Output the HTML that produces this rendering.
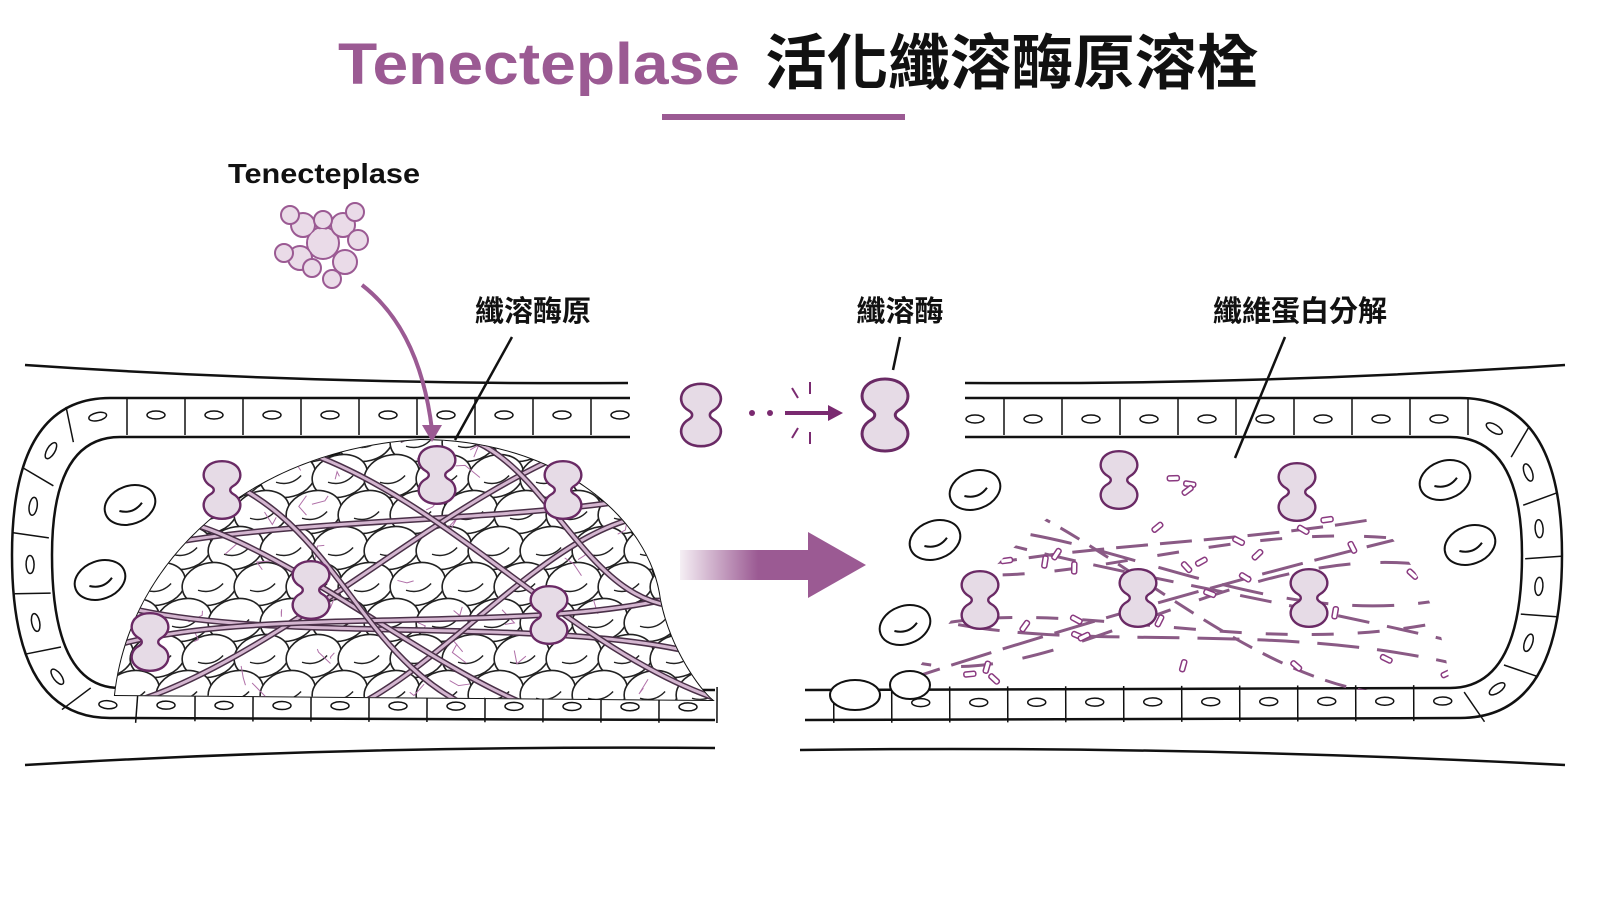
<!DOCTYPE html>
<html><head><meta charset="utf-8"><style>
html,body{margin:0;padding:0;background:#fff;width:1600px;height:900px;overflow:hidden}
svg{display:block}
text{font-family:"Liberation Sans","Noto Sans CJK TC",sans-serif;font-weight:bold}
</style></head><body>
<svg id="s" width="1600" height="900" viewBox="0 0 1600 900" xmlns="http://www.w3.org/2000/svg">
<defs>
<linearGradient id="ag" x1="0" x2="1"><stop offset="0" stop-color="#9b5a93" stop-opacity="0.1"/><stop offset="0.6" stop-color="#9b5a93"/></linearGradient>
<clipPath id="clot"><path d="M115,695 C130,560 250,450 420,440 C560,440 650,520 660,600 C670,650 700,690 712,700 Z"/></clipPath>
<clipPath id="rclip"><path d="M905,690 C960,600 1050,470 1200,455 C1350,450 1440,560 1450,690 Z"/></clipPath>
<symbol id="enz" viewBox="-30 -40 60 80" overflow="visible">
<path d="M0,-36 C24,-36 30,-14 14,-5 C9,-2 9,2 14,5 C30,14 24,36 0,36 C-24,36 -30,14 -14,5 C-9,2 -9,-2 -14,-5 C-30,-14 -24,-36 0,-36Z" fill="#e6dbe6" stroke="#6a2a65" stroke-width="3"/>
</symbol>
</defs>
<text x="338" y="84" font-size="58" fill="#9b5a93" textLength="402" lengthAdjust="spacingAndGlyphs">Tenecteplase</text>
<text x="765" y="84" font-size="60" fill="#111" textLength="493" lengthAdjust="spacingAndGlyphs">活化纖溶酶原溶栓</text>
<rect x="662" y="114" width="243" height="6" fill="#9b5a93"/>
<text x="228" y="183" font-size="28" fill="#111" textLength="192" lengthAdjust="spacingAndGlyphs">Tenecteplase</text>
<text x="533" y="321" font-size="29" fill="#111" text-anchor="middle">纖溶酶原</text>
<text x="900" y="321" font-size="29" fill="#111" text-anchor="middle">纖溶酶</text>
<text x="1300" y="321" font-size="29" fill="#111" text-anchor="middle">纖維蛋白分解</text>
<g id="vess" fill="none" stroke="#111" stroke-width="2.5">
<path d="M25,365 Q320,385 628,383"/>
<path d="M25,765 Q360,745 715,748"/>
<path d="M965,383 Q1260,385 1565,365"/>
<path d="M800,750 Q1180,745 1565,765"/>
<path d="M630,398 L110,398 Q12,398 12,555 Q12,718 110,718 L715,720"/>
<path d="M630,437 L120,437 Q52,437 52,555 Q52,688 120,688 L715,690"/>
<path d="M965,398 L1460,398 Q1562,398 1562,555 Q1562,718 1460,718 L805,720"/>
<path d="M965,437 L1450,437 Q1522,437 1522,555 Q1522,688 1450,688 L805,690"/>
</g>
<path id="c1" d="M630,417 L115,417 Q32,417 32,555 Q32,703 115,703 L715,705" fill="none" stroke="none"/>
<path id="c2" d="M965,417 L1455,417 Q1542,417 1542,555 Q1542,703 1455,703 L805,705" fill="none" stroke="none"/>
<g id="walls"></g>
<g id="rbc" fill="#fff" stroke="#111" stroke-width="2"></g>
<path d="M115,695 C130,560 250,450 420,440 C560,440 650,520 660,600 C670,650 700,690 712,700 Z" fill="#fff" stroke="#111" stroke-width="2"/>
<g clip-path="url(#clot)" id="clotg"></g>
<g clip-path="url(#rclip)" id="rg"></g>
<path d="M362,285 Q420,330 432,430" fill="none" stroke="#9b5a93" stroke-width="4"/>
<path d="M422,425 L432,442 L442,425Z" fill="#9b5a93"/>
<line x1="512" y1="337" x2="455" y2="440" stroke="#111" stroke-width="2.5"/>
<line x1="900" y1="337" x2="893" y2="370" stroke="#111" stroke-width="2.5"/>
<line x1="1285" y1="337" x2="1235" y2="458" stroke="#111" stroke-width="2.5"/>
<g id="tnk" fill="#eadbe8" stroke="#9b5a93" stroke-width="2"></g>
<use href="#enz" x="675" y="375" width="52" height="80"/>
<use href="#enz" x="855" y="373" width="60" height="84"/>
<circle cx="752" cy="413" r="3" fill="#7a2a70"/><circle cx="770" cy="413" r="3" fill="#7a2a70"/>
<line x1="785" y1="413" x2="830" y2="413" stroke="#7a2a70" stroke-width="4"/>
<path d="M828,405 L843,413 L828,421Z" fill="#7a2a70"/>
<g stroke="#7a2a70" stroke-width="2"><line x1="792" y1="388" x2="798" y2="398"/><line x1="810" y1="382" x2="810" y2="394"/><line x1="792" y1="438" x2="798" y2="428"/><line x1="810" y1="444" x2="810" y2="432"/></g>
<rect x="680" y="550" width="130" height="30" fill="url(#ag)"/>
<path d="M808,532 L866,565 L808,598Z" fill="#9b5a93"/>
<g id="enzs"></g>
</svg>
<script>
var NS="http://www.w3.org/2000/svg";
function el(p,t,a){var e=document.createElementNS(NS,t);for(var k in a)e.setAttribute(k,a[k]);p.appendChild(e);return e;}
var W=document.getElementById('walls');
['c1','c2'].forEach(function(id){var p=document.getElementById(id),L=p.getTotalLength();
for(var d=10;d<L-10;d+=58){var a=p.getPointAtLength(d),b=p.getPointAtLength(d+1),ang=Math.atan2(b.y-a.y,b.x-a.x)*180/Math.PI;
var g=el(W,'g',{transform:'translate('+a.x+','+a.y+') rotate('+ang+')'});
el(g,'ellipse',{cx:0,cy:2,rx:9,ry:4,fill:'none',stroke:'#111','stroke-width':1.5});
el(g,'line',{x1:29,y1:-18,x2:29,y2:18,stroke:'#111','stroke-width':1.5});}});
var T=document.getElementById('tnk');
[[323,243,16],[303,225,12],[343,225,12],[300,258,12],[345,262,12],[290,215,9],[355,212,9],[284,253,9],[358,240,10],[332,279,9],[312,268,9],[323,220,9]].forEach(function(c){el(T,'circle',{cx:c[0],cy:c[1],r:c[2]});});
el(T,'circle',{cx:322,cy:243,r:14,stroke:'none'});
var R=document.getElementById('rbc');
[[130,505],[100,580],[1445,480],[1470,545],[975,490],[935,540],[905,625]].forEach(function(c){
var g=el(R,'g',{transform:'translate('+c[0]+','+c[1]+') rotate(-20)'});el(g,'ellipse',{cx:0,cy:0,rx:26,ry:19});el(g,'path',{d:'M-12,2 Q0,10 12,2',fill:'none'});});
var C=document.getElementById('clotg');
for(var y=440;y<720;y+=36)for(var x=100;x<720;x+=52){var xx=x+((y/36)%2)*26;var g=el(C,'g',{transform:'translate('+xx+','+y+') rotate(-15)'});
el(g,'ellipse',{cx:0,cy:0,rx:28,ry:21,fill:'#fff',stroke:'#222','stroke-width':1.6});el(g,'path',{d:'M-13,3 Q0,11 13,3',fill:'none',stroke:'#222','stroke-width':1.4});}
var seed=3;function rnd(){seed=(seed*9301+49297)%233280;return seed/233280;}
for(var i=0;i<50;i++){var x=120+rnd()*580,y=450+rnd()*250;el(C,'path',{d:'M'+x+','+y+' l'+(rnd()*30-15)+','+(rnd()*30-15)+' l'+(rnd()*20-10)+','+(rnd()*20-10),fill:'none',stroke:'#b070a8','stroke-width':1});}
var F=[[100,560,720,480],[100,600,720,660],[140,700,600,440],[250,720,700,520],[100,520,650,720],[300,450,720,700],[100,650,700,590],[200,470,500,720],[400,440,720,600]];
F.forEach(function(f,i){var d='M'+f[0]+','+f[1]+' C'+(f[0]+150)+','+(f[1]+(i%2?50:-50))+' '+(f[2]-150)+','+(f[3]+(i%2?-50:50))+' '+f[2]+','+f[3];
el(C,'path',{d:d,fill:'none',stroke:'#4a3048','stroke-width':6});el(C,'path',{d:d,fill:'none',stroke:'#d4b6d0','stroke-width':3});});
var G=document.getElementById('rg');
for(var i=0;i<9;i++){var y0=490+i*24,y1=690-((i*47)%210);var d='M900,'+y0+' C1050,'+(y0+(i%2?50:-50))+' 1250,'+(y1+(i%2?-50:50))+' 1460,'+y1;
el(G,'path',{d:d,fill:'none',stroke:'#8a5a85','stroke-width':3,'stroke-dasharray':(22+i%3*10)+' '+(12+i%4*6)});}
seed=7;for(var i=0;i<40;i++){var x=950+rnd()*520,y=460+rnd()*230;el(G,'rect',{x:x,y:y,width:12,height:5,rx:2,fill:'#fff',stroke:'#8a3a80','stroke-width':1.5,transform:'rotate('+(rnd()*180)+' '+x+' '+y+')'});}
var RG=document.getElementById('s');
el(RG,'g',{}).innerHTML='<ellipse cx="855" cy="695" rx="25" ry="15" fill="#fff" stroke="#111" stroke-width="2"/><ellipse cx="910" cy="685" rx="20" ry="14" fill="#fff" stroke="#111" stroke-width="2"/>';
var E=document.getElementById('enzs');
[[222,490],[437,475],[563,490],[311,590],[150,642],[549,615],[1119,480],[1297,492],[980,600],[1138,598],[1309,598]].forEach(function(c){
el(E,'use',{href:'#enz',x:c[0]-24,y:c[1]-33,width:48,height:66});});
</script>
</body></html>
